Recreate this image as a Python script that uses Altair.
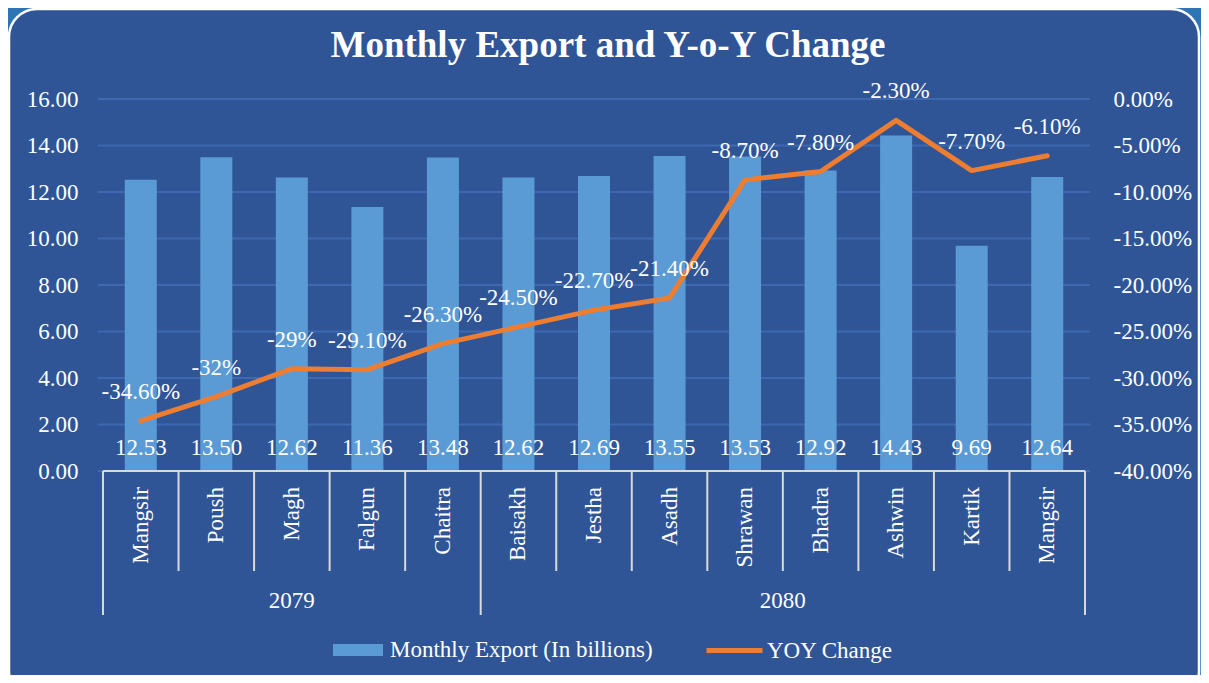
import altair as alt
import pandas as pd

# ---------------- data ----------------
months = ["Mangsir", "Poush", "Magh", "Falgun", "Chaitra", "Baisakh", "Jestha",
          "Asadh", "Shrawan", "Bhadra", "Ashwin", "Kartik", "Mangsir"]
years = ["2079"] * 5 + ["2080"] * 8
exports = [12.53, 13.50, 12.62, 11.36, 13.48, 12.62, 12.69, 13.55, 13.53, 12.92, 14.43, 9.69, 12.64]
yoy = [-34.6, -32.0, -29.0, -29.1, -26.3, -24.5, -22.7, -21.4, -8.7, -7.8, -2.3, -7.7, -6.1]
yoy_labels = ["-34.60%", "-32%", "-29%", "-29.10%", "-26.30%", "-24.50%", "-22.70%",
              "-21.40%", "-8.70%", "-7.80%", "-2.30%", "-7.70%", "-6.10%"]
left_ticks = [0, 2, 4, 6, 8, 10, 12, 14, 16]
right_ticks = [-40, -35, -30, -25, -20, -15, -10, -5, 0]
bar_name = "Monthly Export (In billions)"
line_name = "YOY Change"
title_text = "Monthly Export and Y-o-Y Change"

# ---------------- style ----------------
W, H = 992, 372
FONT = "Liberation Serif"
TXT = "#FFFFFF"
BAR = "#5B9BD5"
LINE = "#ED7D31"
INNER = "#2F5597"
OUTER = "#2E75B6"
GRID = "#3E68AF"
AXIS = "#D9D9D9"
FS = 23

n = len(months)
df = pd.DataFrame({
    "idx": list(range(n)), "month": months, "year": years, "export": exports,
    "yoy": yoy, "yoy_label": yoy_labels, "bar_series": [bar_name] * n,
    "line_series": [line_name] * n, "zero": [0] * n,
})

brows = []
for k in range(n + 1):
    lft = years[k - 1] if k > 0 else None
    rgt = years[k] if k < n else None
    brows.append({"b": k - 0.5, "major": lft != rgt, "zero": 0})
bdf = pd.DataFrame(brows)
base_df = pd.DataFrame({"lo": [-0.5], "hi": [n - 0.5], "zero": [0]})
grid_df = pd.DataFrame({"v": left_ticks})

xscale = alt.Scale(domain=[-0.5, n - 0.5], nice=False, zero=False)
yL = alt.Scale(domain=[0, 16], nice=False)
yR = alt.Scale(domain=[-40, 0], nice=False)

axL = alt.Axis(values=left_ticks, format=".2f", grid=False, domain=False, ticks=False,
               tickSize=0, labelPadding=20, labelFont=FONT, labelFontSize=FS,
               labelColor=TXT, title=None, orient="left", zindex=1)
axR = alt.Axis(values=right_ticks, grid=False, domain=False, ticks=False, tickSize=0,
               labelPadding=23, labelFont=FONT, labelFontSize=FS, labelColor=TXT,
               title=None, orient="right", zindex=1,
               labelExpr="(datum.value < 0 ? '-' : '') + format(abs(datum.value), '.2f') + '%'")

# background panel
bg = alt.Chart(pd.DataFrame({"k": [0]})).mark_rect(
    fill=INNER, stroke="#FFFFFF", strokeWidth=2.5, cornerRadius=28
).encode(x=alt.value(-89), x2=alt.value(1101), y=alt.value(-90), y2=alt.value(600))

grid = alt.Chart(grid_df).mark_rule(color=GRID, strokeWidth=2).encode(
    y=alt.Y("v:Q", scale=yL, axis=axL), x=alt.value(0), x2=alt.value(W))

bars = alt.Chart(df).mark_bar(size=32).encode(
    x=alt.X("idx:Q", scale=xscale, axis=None),
    y=alt.Y("export:Q", scale=yL, axis=axL),
    color=alt.Color("bar_series:N", scale=alt.Scale(domain=[bar_name], range=[BAR]),
                    legend=alt.Legend(orient="none", legendX=235, legendY=526, title=None,
                                      symbolType="M-1,-0.24L1,-0.24L1,0.24L-1,0.24Z",
                                      symbolSize=2500, symbolStrokeWidth=0, symbolOpacity=1,
                                      labelFont=FONT, labelFontSize=FS, labelColor=TXT,
                                      labelOffset=7, padding=0, labelLimit=400)),
)

bar_text = alt.Chart(df).mark_text(font=FONT, fontSize=FS, color=TXT, baseline="middle", dy=-23).encode(
    x=alt.X("idx:Q", scale=xscale, axis=None),
    y=alt.Y("zero:Q", scale=yL, axis=axL),
    text=alt.Text("export:Q", format=".2f"),
)

baseline = alt.Chart(base_df).mark_rule(color=AXIS, strokeWidth=2).encode(
    x=alt.X("lo:Q", scale=xscale, axis=None), x2="hi:Q",
    y=alt.Y("zero:Q", scale=yL, axis=axL))

sep_minor = alt.Chart(bdf).transform_filter("!datum.major").mark_rule(color=AXIS, strokeWidth=2).encode(
    x=alt.X("b:Q", scale=xscale, axis=None),
    y=alt.Y("zero:Q", scale=yL, axis=axL), y2=alt.value(H + 100))
sep_major = alt.Chart(bdf).transform_filter("datum.major").mark_rule(color=AXIS, strokeWidth=2).encode(
    x=alt.X("b:Q", scale=xscale, axis=None),
    y=alt.Y("zero:Q", scale=yL, axis=axL), y2=alt.value(H + 144))

month_text = alt.Chart(df).mark_text(font=FONT, fontSize=FS, color=TXT, angle=270,
                                     align="right", baseline="middle", dx=-16).encode(
    x=alt.X("idx:Q", scale=xscale, axis=None),
    y=alt.Y("zero:Q", scale=yL, axis=axL),
    text="month:N")

year_text = alt.Chart(df).transform_aggregate(c="mean(idx)", groupby=["year", "zero"]).mark_text(
    font=FONT, fontSize=FS, color=TXT, baseline="middle", dy=130).encode(
    x=alt.X("c:Q", scale=xscale, axis=None),
    y=alt.Y("zero:Q", scale=yL, axis=axL),
    text="year:N")

title = alt.Chart(pd.DataFrame({"t": [title_text]})).mark_text(
    font=FONT, fontSize=37, fontWeight="bold", color=TXT, baseline="alphabetic", align="center"
).encode(x=alt.value(510), y=alt.value(-42), text="t:N")

left = alt.layer(bg, grid, bars, bar_text, baseline, sep_minor, sep_major, month_text, year_text, title)

line = alt.Chart(df).mark_line(strokeWidth=5, strokeCap="round", strokeJoin="round").encode(
    x=alt.X("idx:Q", scale=xscale, axis=None),
    y=alt.Y("yoy:Q", scale=yR, axis=axR),
    stroke=alt.Stroke("line_series:N", scale=alt.Scale(domain=[line_name], range=[LINE]),
                      legend=alt.Legend(orient="none", legendX=606, legendY=521, title=None,
                                        symbolType="stroke", symbolSize=3136, symbolStrokeWidth=5,
                                        labelFont=FONT, labelFontSize=FS, labelColor=TXT,
                                        labelOffset=2, padding=0, labelLimit=400)),
)
line_text = alt.Chart(df).mark_text(font=FONT, fontSize=FS, color=TXT, baseline="middle", dy=-29).encode(
    x=alt.X("idx:Q", scale=xscale, axis=None),
    y=alt.Y("yoy:Q", scale=yR, axis=axR),
    text="yoy_label:N")

right = alt.layer(line, line_text)

chart = alt.layer(left, right).resolve_scale(y="independent").properties(
    width=W, height=H,
    padding={"left": 90, "top": 91, "right": 111, "bottom": 204},
    autosize=alt.AutoSizeParams(type="none"),
    background=OUTER,
).configure_view(stroke=None)

chart.save("out.html", embed_options={"renderer": "svg", "actions": False})
